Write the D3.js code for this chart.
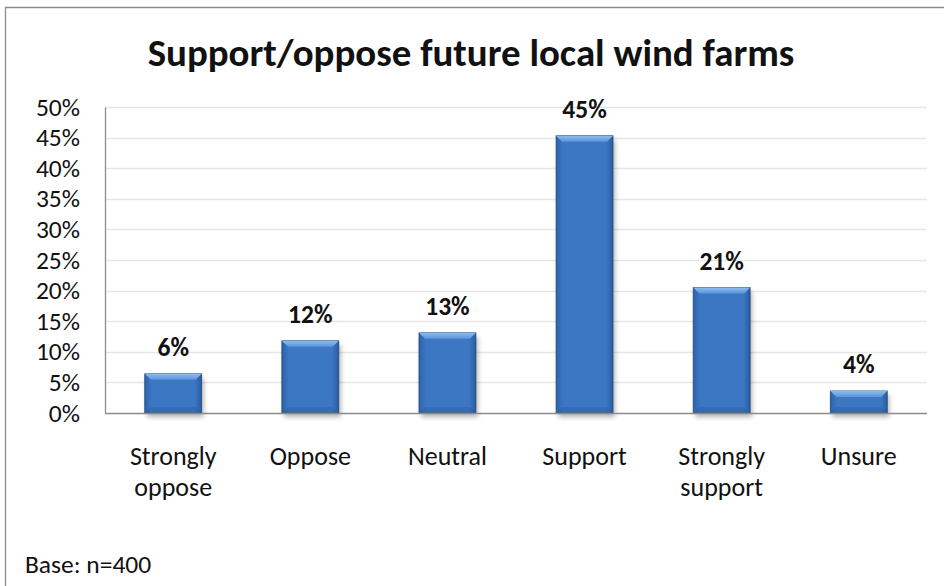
<!DOCTYPE html>
<html><head><meta charset="utf-8">
<script src="https://cdn.jsdelivr.net/npm/d3@7"></script>
<style>
body{margin:0;background:#fff;}
svg{display:block;font-family:Carlito,Calibri,"Open Sans",sans-serif;}
</style></head>
<body>
<svg id="c" width="944" height="586"></svg>
<script>
const categories = [["Strongly","oppose"],["Oppose"],["Neutral"],["Support"],["Strongly","support"],["Unsure"]];
const values = [6.4, 11.8, 13.1, 45.3, 20.5, 3.6];
const valueLabels = ["6%","12%","13%","45%","21%","4%"];
const yTicks = [0,5,10,15,20,25,30,35,40,45,50];
const title = "Support/oppose future local wind farms";
const note = "Base: n=400";

const svg = d3.select("#c");
const W = 944, H = 586;
const m = {left:105, right:17, top:107, bottom:173};
const x = d3.scaleBand().domain(categories.map((d,i)=>i)).range([m.left, W-m.right]).paddingInner(0.585).paddingOuter(0.29);
const y = d3.scaleLinear().domain([0,50]).range([H-m.bottom, m.top]);
const FS = 25.5;

// outer border
svg.append("path").attr("d",`M5.5,${H+5} V7.5 H${W+5}`).attr("fill","none").attr("stroke","#8c8c8c").attr("stroke-width",1.3);

// defs
const defs = svg.append("defs");
const g1 = defs.append("linearGradient").attr("id","bar").attr("x1","0").attr("x2","1").attr("y1","0").attr("y2","0");
g1.append("stop").attr("offset","0").attr("stop-color","#2d62a8");
g1.append("stop").attr("offset","0.12").attr("stop-color","#3c77c4");
g1.append("stop").attr("offset","0.88").attr("stop-color","#3c77c4");
g1.append("stop").attr("offset","1").attr("stop-color","#2a5c9e");
const g2 = defs.append("linearGradient").attr("id","top").attr("x1","0").attr("x2","0").attr("y1","0").attr("y2","1");
g2.append("stop").attr("offset","0").attr("stop-color","#8dbcf0");
g2.append("stop").attr("offset","1").attr("stop-color","#5b93da");
const f = defs.append("filter").attr("id","sh").attr("x","-20%").attr("y","-20%").attr("width","140%").attr("height","140%");
f.append("feGaussianBlur").attr("stdDeviation",2.5);

// gridlines
svg.append("g").selectAll("line").data(yTicks.filter(d=>d>0)).join("line")
  .attr("x1",m.left).attr("x2",W-m.right).attr("y1",d=>Math.round(y(d))+0.5).attr("y2",d=>Math.round(y(d))+0.5)
  .attr("stroke","#e6e6e6").attr("stroke-width",1.5);

// y axis
const ya = svg.append("g").attr("transform",`translate(${m.left},0)`)
  .call(d3.axisLeft(y).tickValues(yTicks).tickFormat(d=>d+"%").tickSize(0).tickPadding(25));
ya.select(".domain").attr("stroke","#8c8c8c").attr("stroke-width",1.3);
ya.selectAll("text").attr("font-size",FS).attr("fill","#111").attr("font-family","Carlito,Calibri,'Open Sans',sans-serif");

// bars
const bw = x.bandwidth();
const bars = svg.append("g").selectAll("g").data(values).join("g");
bars.append("rect").attr("x",(d,i)=>x(i)+2).attr("y",d=>y(d)+4).attr("width",bw).attr("height",d=>y(0)-y(d))
  .attr("fill","#000").attr("opacity",0.3).attr("filter","url(#sh)");
bars.append("rect").attr("x",(d,i)=>x(i)).attr("y",d=>y(d)).attr("width",bw).attr("height",d=>y(0)-y(d))
  .attr("fill","url(#bar)").attr("stroke","#1f4a80").attr("stroke-width",0.8);
const bv = 6;
bars.append("path").attr("d",(d,i)=>{
  const x0=x(i), x1=x(i)+bw, t=y(d), h=Math.min(bv, (y(0)-y(d))/2);
  return `M${x0},${t} L${x1},${t} L${x1-bv},${t+h} L${x0+bv},${t+h} Z`;
}).attr("fill","url(#top)");
bars.append("path").attr("d",(d,i)=>{
  const x0=x(i), x1=x(i)+bw, b=y(0), h=Math.min(bv,(y(0)-y(d))/2);
  return `M${x0},${b} L${x1},${b} L${x1-bv},${b-h} L${x0+bv},${b-h} Z`;
}).attr("fill","#2b5a98").attr("opacity",0.35);

// x axis line
svg.append("line").attr("x1",m.left).attr("x2",W-m.right).attr("y1",y(0)+0.5).attr("y2",y(0)+0.5).attr("stroke","#8c8c8c").attr("stroke-width",1.3);

// value labels
svg.append("g").selectAll("text").data(values).join("text")
  .attr("x",(d,i)=>x(i)+bw/2).attr("y",d=>y(d)-18).attr("text-anchor","middle")
  .attr("font-size",FS).attr("font-weight","bold").attr("fill","#111").text((d,i)=>valueLabels[i]);

// category labels
const cl = svg.append("g").selectAll("text").data(categories).join("text")
  .attr("x",(d,i)=>x(i)+bw/2).attr("y",465).attr("text-anchor","middle").attr("font-size",FS+0.5).attr("fill","#111");
cl.selectAll("tspan").data(d=>d).join("tspan").attr("x",function(){return this.parentNode.getAttribute("x");})
  .attr("dy",(d,j)=>j===0?0:31).text(d=>d);

// title
const t = svg.append("text").attr("x",471).attr("y",66).attr("text-anchor","middle")
  .attr("font-size",30).attr("font-weight","bold").attr("fill","#111").text(title);
const tl = t.node().getComputedTextLength();
if (Math.abs(tl-647)>10) t.attr("font-size",30*647/tl);

// note
svg.append("text").attr("x",25).attr("y",573).attr("font-size",FS).attr("fill","#111").text(note);
</script>
</body></html>
